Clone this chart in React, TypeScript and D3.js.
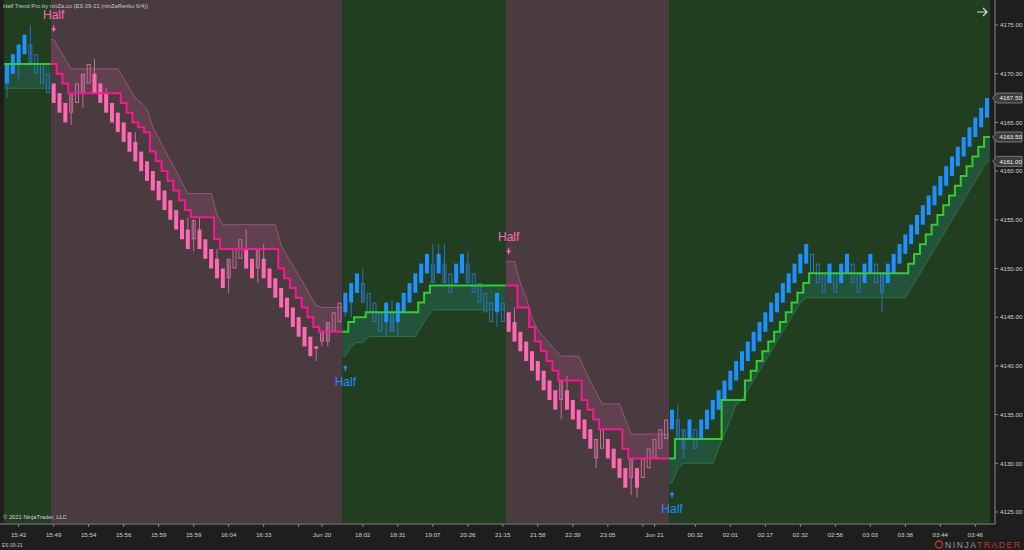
import * as d3 from "d3";

// renko bricks: [open, close]
const bricks: [number, number][] = [
  [4169, 4171], [4170, 4172], [4171, 4173], [4172, 4174], [4173, 4171], [4172, 4170], [4171, 4169], [4170, 4168],
  [4169, 4167], [4168, 4166], [4167, 4165], [4166, 4168], [4167, 4169], [4168, 4170], [4169, 4171], [4170, 4168],
  [4169, 4167], [4168, 4166], [4167, 4165], [4166, 4164], [4165, 4163], [4164, 4162], [4163, 4161], [4162, 4160],
  [4161, 4159], [4160, 4158], [4159, 4157], [4158, 4156], [4157, 4155], [4156, 4154], [4155, 4153], [4154, 4152],
  [4153, 4155], [4154, 4152], [4153, 4151], [4152, 4150], [4151, 4149], [4150, 4148], [4149, 4151], [4150, 4152],
  [4151, 4153], [4152, 4150], [4151, 4149], [4150, 4152], [4151, 4149], [4150, 4148], [4149, 4147], [4148, 4146],
  [4147, 4145], [4146, 4144], [4145, 4143], [4144, 4142], [4143, 4141], [4142, 4141.75], [4142.5, 4143.5], [4142.5, 4144.5],
  [4143.5, 4145.5], [4144.5, 4146.5], [4145.5, 4147.5], [4146.5, 4148.5], [4147.5, 4149.5], [4148.5, 4146.5], [4147.5, 4145.5], [4146.5, 4144.5],
  [4145.5, 4143.5], [4144.5, 4146.5], [4145.5, 4143.5], [4144.5, 4146.5], [4145.5, 4147.5], [4146.5, 4148.5], [4147.5, 4149.5], [4148.5, 4150.5],
  [4149.5, 4151.5], [4150.5, 4148.5], [4149.5, 4151.5], [4150.5, 4148.5], [4149.5, 4147.5], [4148.5, 4150.5], [4149.5, 4151.5], [4150.5, 4148.5],
  [4149.5, 4147.5], [4148.5, 4146.5], [4147.5, 4145.5], [4146.5, 4144.5], [4145.5, 4147.5], [4146.5, 4144.5], [4145.5, 4143.5], [4144.5, 4142.5],
  [4143.5, 4141.5], [4142.5, 4140.5], [4141.5, 4139.5], [4140.5, 4138.5], [4139.5, 4137.5], [4138.5, 4136.5], [4137.5, 4135.5], [4136.5, 4138.5],
  [4137.5, 4135.5], [4136.5, 4134.5], [4135.5, 4133.5], [4134.5, 4132.5], [4133.5, 4131.5], [4130.5, 4132.5], [4131.5, 4133.5], [4132.5, 4130.5],
  [4131.5, 4129.5], [4130.5, 4128.5], [4129.5, 4127.5], [4128.5, 4130.5], [4129.5, 4127.5], [4128.5, 4130.5], [4129.5, 4131.5], [4130.5, 4132.5],
  [4131.5, 4133.5], [4132.5, 4134.5], [4133.5, 4135.5], [4134.5, 4132.5], [4133.5, 4131.5], [4132.5, 4134.5], [4133.5, 4131.5], [4132.5, 4134.5],
  [4133.5, 4135.5], [4134.5, 4136.5], [4135.5, 4137.5], [4136.5, 4138.5], [4137.5, 4139.5], [4138.5, 4140.5], [4139.5, 4141.5], [4140.5, 4142.5],
  [4141.5, 4143.5], [4142.5, 4144.5], [4143.5, 4145.5], [4144.5, 4146.5], [4145.5, 4147.5], [4146.5, 4148.5], [4147.5, 4149.5], [4148.5, 4150.5],
  [4149.5, 4151.5], [4150.5, 4152.5], [4151.5, 4149.5], [4150.5, 4148.5], [4149.5, 4147.5], [4148.5, 4150.5], [4149.5, 4147.5], [4148.5, 4150.5],
  [4149.5, 4151.5], [4150.5, 4148.5], [4149.5, 4147.5], [4148.5, 4150.5], [4149.5, 4151.5], [4150.5, 4148.5], [4149.5, 4147.5], [4148.5, 4150.5],
  [4149.5, 4151.5], [4150.5, 4152.5], [4151.5, 4153.5], [4152.5, 4154.5], [4153.5, 4155.5], [4154.5, 4156.5], [4155.5, 4157.5], [4156.5, 4158.5],
  [4157.5, 4159.5], [4158.5, 4160.5], [4159.5, 4161.5], [4160.5, 4162.5], [4161.5, 4163.5], [4162.5, 4164.5], [4163.5, 4165.5], [4164.5, 4166.5],
  [4165.5, 4167.5],
];

// [bar, low, high]
const wicks: [number, number, number][] = [
  [0, 4167.5, 4171], [2, 4169.5, 4173], [4, 4171, 4175], [11, 4164.75, 4168], [13, 4166.5, 4170], [15, 4168, 4171.5],
  [17, 4166, 4168.5], [22, 4161, 4164], [31, 4152, 4155.25], [32, 4151.75, 4155], [33, 4152, 4155.25], [36, 4149, 4152],
  [38, 4147.5, 4151], [41, 4150, 4154], [43, 4148.5, 4152], [44, 4149, 4152.5], [53, 4140.5, 4142], [54, 4142, 4143.5],
  [55, 4142, 4144.5], [58, 4145, 4147.5], [59, 4145, 4148.5], [61, 4146.5, 4150], [65, 4143, 4146.5], [66, 4143.5, 4146.75],
  [67, 4143, 4146.5], [73, 4148.5, 4152.5], [74, 4149.5, 4152.5], [75, 4148.5, 4152.5], [79, 4148.5, 4151.75], [84, 4144, 4147.5],
  [87, 4142.5, 4146], [95, 4134.5, 4138.5], [96, 4135.5, 4139], [101, 4129.5, 4132.5], [107, 4126.75, 4130.5], [108, 4126.5, 4129.5],
  [115, 4132.5, 4136], [116, 4130.5, 4133.5], [150, 4145.5, 4149.5],
];

const halfTrend: number[] = [
  4171, 4171, 4171, 4171, 4171, 4171, 4171, 4171, 4171, 4170, 4169, 4168, 4168, 4168, 4168, 4168, 4168, 4168, 4168, 4168,
  4167, 4166, 4165, 4164.5, 4164, 4162, 4161, 4160, 4159, 4158, 4157, 4156, 4155.25, 4155.25, 4155.25, 4155.25, 4153,
  4152, 4152, 4152, 4152, 4152, 4152, 4152, 4152, 4152, 4152, 4150, 4149, 4148, 4147, 4146, 4145, 4144,
  4143.5, 4143.5, 4143.5, 4143.5, 4143.5, 4144.5, 4145, 4145, 4145.5, 4145.5, 4145.5, 4145.5, 4145.5, 4145.5, 4145.5, 4145.5, 4145.5,
  4146.5, 4147.5, 4148.25, 4148.25, 4148.25, 4148.25, 4148.25, 4148.25, 4148.25, 4148.25, 4148.25, 4148.25, 4148.25, 4148.25, 4148.25,
  4148.25, 4148.25, 4146, 4146, 4144, 4142.5, 4141.5, 4140.5, 4139.5, 4138.5, 4138.5, 4138.5, 4138.5, 4136.5, 4135.5, 4134.5,
  4133.5, 4133.5, 4133.5, 4133.5, 4131.5, 4130.5, 4130.5, 4130.5, 4130.5, 4130.5, 4130.5, 4130.5, 4130.5,
  4132.5, 4132.5, 4132.5, 4132.5, 4132.5, 4132.5, 4132.5, 4132.5, 4136.5, 4136.5, 4136.5, 4136.5, 4138.5, 4139.5, 4140.5, 4141.5,
  4142.5, 4143.5, 4144.5, 4145.5, 4146.5, 4147.5, 4148.5, 4149.5, 4149.5, 4149.5, 4149.5, 4149.5, 4149.5, 4149.5, 4149.5, 4149.5,
  4149.5, 4149.5, 4149.5, 4149.5, 4149.5, 4149.5, 4149.5, 4149.5, 4150.5, 4151.5, 4152.5, 4153.5, 4154.5, 4155.5, 4156.5, 4157.5,
  4158.5, 4159.5, 4160.5, 4161.5, 4162.5, 4163.5,
];

const band: number[] = [
  4168.5, 4168.5, 4168.5, 4168.5, 4168.5, 4168.5, 4168.5, 4168.5, 4173.5, 4172.5, 4171.5, 4170.5, 4170.5, 4170.5, 4170.5, 4170.5,
  4170.5, 4170.5, 4170.5, 4170.5, 4169.5, 4168.5, 4167.5, 4167, 4166.4, 4164.5, 4163.4, 4162.2, 4161.1, 4160, 4158.8, 4157.7,
  4157.7, 4157.7, 4157.7, 4157.7, 4155.5, 4154.5, 4154.5, 4154.5, 4154.5, 4154.5, 4154.5, 4154.5, 4154.5, 4154.5, 4154.5, 4152.4,
  4151.3, 4150.3, 4149.3, 4148.3, 4147.2, 4146.2, 4146, 4146, 4146, 4146, 4141, 4142, 4142.4, 4142.4, 4143, 4143, 4143, 4143,
  4143, 4143, 4143, 4143, 4143, 4144, 4145, 4145.75, 4145.75, 4145.75, 4145.75, 4145.75, 4145.75, 4145.75, 4145.75, 4145.75,
  4145.75, 4145.75, 4145.75, 4145.75, 4150.7, 4150.7, 4148.5, 4147, 4145, 4143.7, 4143, 4142.3, 4141.6, 4141, 4141, 4141, 4141,
  4139.7, 4138.4, 4137.3, 4136.1, 4136.1, 4136.1, 4136.1, 4134.5, 4133, 4133, 4133, 4133, 4133, 4133, 4133,
  4128, 4129.5, 4130, 4130, 4130, 4130, 4130, 4130, 4131.5, 4133, 4134.5, 4136, 4136.5, 4137.5, 4138.5, 4139.5, 4140.5, 4141.5,
  4142.5, 4143.5, 4144.5, 4145.5, 4146.5, 4147, 4147, 4147, 4147, 4147, 4147, 4147, 4147, 4147, 4147, 4147, 4147, 4147, 4147,
  4147, 4147, 4147, 4147, 4148, 4149, 4150, 4151, 4152, 4153, 4154, 4155, 4156, 4157, 4158, 4159, 4160, 4161,
];

// [first bar, last bar, direction]
const trendRuns: [number, number, number][] = [
  [0, 7, 1], [8, 57, -1], [58, 85, 1], [86, 113, -1], [114, 168, 1],
];

const timeTicks: [number, string][] = [
  [2, "15:42"], [8, "15:49"], [14, "15:54"], [20, "15:56"], [26, "15:59"], [32, "15:59"], [38, "16:04"], [44, "16:33"],
  [50, ""], [54, "Jun 20"], [61, "18:02"], [67, "18:31"], [73, "19:07"], [79, "20:26"], [85, "21:15"], [91, "21:58"],
  [97, "22:39"], [103, "23:05"], [109, ""], [111, "Jun 21"], [118, "00:32"], [124, "02:01"], [130, "02:17"], [136, "02:32"],
  [142, "02:56"], [148, "03:03"], [154, "03:38"], [160, "03:44"], [166, "03:46"],
];

const priceTicks = [4125, 4130, 4135, 4140, 4145, 4150, 4155, 4160, 4165, 4170, 4175];
const priceMarkers = [4167.5, 4163.5, 4161];

const FONT = "'Liberation Sans', Arial, sans-serif";
const UP = { bg: "#213e21", line: "#32cd32", fill: "#2fa59a", fillOp: 0.22, edge: "#3aa04c", solid: "#1e90ff", hollow: "#2a74b8" };
const DN = { bg: "#4a3b41", line: "#ff1493", fill: "#ff69b4", fillOp: 0.13, edge: "#d8709e", solid: "#ff69b4", hollow: "#c86c9a" };

export default function App() {
  const width = 1024;
  const height = 550;
  const plotLeft = 3;
  const plotRight = 993;
  const plotBottom = 523;

  const x = d3.scaleLinear([0, bricks.length - 1], [7, 987]);
  const y = d3.scaleLinear([4125, 4175], [512, 25]);
  const half = (x(1) - x(0)) / 2;
  const slotL = (i: number) => Math.max(plotLeft, x(i) - half);
  const slotR = (i: number) => Math.min(plotRight, x(i) + half);
  const trendOf = (i: number) => trendRuns.find((r) => i >= r[0] && i <= r[1])![2];
  const line = d3.line<[number, number]>();

  const runs = trendRuns.map(([a, b, dir]) => {
    const c = dir > 0 ? UP : DN;
    const idx = d3.range(a, b + 1);
    const stepPts: [number, number][] = idx.flatMap((i) => [
      [slotL(i), y(halfTrend[i])],
      [slotR(i), y(halfTrend[i])],
    ] as [number, number][]);
    const bandPts: [number, number][] = [
      [slotL(a), y(band[a])],
      ...idx.map((i) => [x(i), y(band[i])] as [number, number]),
      [slotR(b), y(band[b])],
    ];
    const poly = line([...bandPts, ...stepPts.slice().reverse()]) + "Z";
    return { a, b, dir, c, stepPts, bandPts, poly };
  });

  return (
    <svg width={width} height={height} style={{ position: "fixed", left: 0, top: 0 }} fontFamily={FONT}>
      <rect width={width} height={height} fill="#1e1e1e" />
      {runs.map((r) => (
        <rect key={"bg" + r.a} x={slotL(r.a)} y={0} width={slotR(r.b) - slotL(r.a)} height={plotBottom} fill={r.c.bg} />
      ))}
      {runs.map((r) => (
        <g key={"band" + r.a}>
          <path d={r.poly} fill={r.c.fill} fillOpacity={r.c.fillOp} />
          <path d={line(r.bandPts)!} fill="none" stroke={r.c.edge} strokeOpacity={0.5} strokeWidth={1} />
        </g>
      ))}
      {/* candles */}
      <g>
        {wicks.map(([i, lo, hi]) => {
          const c = trendOf(i) > 0 ? UP : DN;
          return (
            <line key={"w" + i} x1={x(i)} x2={x(i)} y1={y(hi)} y2={y(lo)} stroke={c.hollow} strokeWidth={1} />
          );
        })}
        {bricks.map(([o, cl], i) => {
          const t = trendOf(i);
          const c = t > 0 ? UP : DN;
          const filled = (cl - o) * t > 0;
          const top = y(Math.max(o, cl));
          const bot = y(Math.min(o, cl));
          return filled ? (
            <rect key={i} x={x(i) - 2} y={top} width={4} height={Math.max(1, bot - top)} fill={c.solid} />
          ) : (
            <rect key={i} x={x(i) - 1.5} y={top + 0.5} width={3} height={Math.max(1, bot - top - 1)} fill="none" stroke={c.hollow} strokeWidth={1} />
          );
        })}
      </g>
      {runs.map((r) => (
        <path key={"ht" + r.a} d={line(r.stepPts)!} fill="none" stroke={r.c.line} strokeWidth={2} />
      ))}
      {/* Half signals */}
      {runs.slice(1).map((r) => {
        const cx = x(r.a);
        const by = y(band[r.a]);
        const col = r.dir > 0 ? "#1e90ff" : "#ff69b4";
        if (r.dir < 0) {
          return (
            <g key={"sig" + r.a} fill={col} stroke={col}>
              <text x={cx} y={by - 21} textAnchor="middle" fontSize={12} stroke="none">Half</text>
              <line x1={cx} x2={cx} y1={by - 14} y2={by - 9} strokeWidth={1.2} />
              <path d={`M${cx - 2},${by - 11}L${cx},${by - 8}L${cx + 2},${by - 11}Z`} strokeWidth={0.5} />
            </g>
          );
        }
        return (
          <g key={"sig" + r.a} fill={col} stroke={col}>
            <line x1={cx} x2={cx} y1={by + 10} y2={by + 15} strokeWidth={1.2} />
            <path d={`M${cx - 2},${by + 12}L${cx},${by + 9}L${cx + 2},${by + 12}Z`} strokeWidth={0.5} />
            <text x={cx} y={by + 30} textAnchor="middle" fontSize={12} stroke="none">Half</text>
          </g>
        );
      })}
      {/* axes */}
      <line x1={995} x2={995} y1={0} y2={524} stroke="#8a8a8a" />
      <line x1={0} x2={995} y1={524} y2={524} stroke="#8a8a8a" />
      {priceTicks.map((p) => (
        <g key={p}>
          <line x1={995} x2={998} y1={y(p)} y2={y(p)} stroke="#8a8a8a" />
          <text x={1000} y={y(p) + 2.2} fontSize={6.2} fill="#d0d0d0">{p.toFixed(2)}</text>
        </g>
      ))}
      {timeTicks.map(([i, lbl]) => (
        <g key={"t" + i}>
          <line x1={x(i)} x2={x(i)} y1={524} y2={527} stroke="#8a8a8a" />
          {lbl && (
            <text x={x(i)} y={537} fontSize={6.2} fill="#d0d0d0" textAnchor="middle">{lbl}</text>
          )}
        </g>
      ))}
      {priceMarkers.map((p) => {
        const py = y(p);
        return (
          <g key={"m" + p}>
            <path d={`M992.5,${py}L997,${py - 5}H1022V${py + 5}H997Z`} fill="#3c3c3c" stroke="#8a8a8a" strokeWidth={0.8} />
            <text x={999.5} y={py + 2.2} fontSize={6.2} fill="#f0f0f0">{p.toFixed(2)}</text>
          </g>
        );
      })}
      {/* texts */}
      <text x={3} y={8} fontSize={5.8} fill="#c8c8c8">Half Trend Pro by ninZa.co (ES 09-21 (ninZaRenko 6/4))</text>
      <text x={3} y={519} fontSize={5.8} fill="#d0d0d0">© 2021 NinjaTrader, LLC</text>
      <text x={2} y={547} fontSize={5} fill="#c0c0c0">ES 09-21</text>
      <path d="M977,12H987M983,8L987,12L983,16" fill="none" stroke="#d8d8d8" strokeWidth={1.2} />
      <g>
        <circle cx={939} cy={544.5} r={3.5} fill="none" stroke="#c0392b" strokeWidth={1.3} />
        <text x={945} y={547.5} fontSize={8.5} letterSpacing={1.6}>
          <tspan fill="#9a9a9a">NINJA</tspan>
          <tspan fill="#c0392b">TRADER</tspan>
        </text>
      </g>
    </svg>
  );
}
